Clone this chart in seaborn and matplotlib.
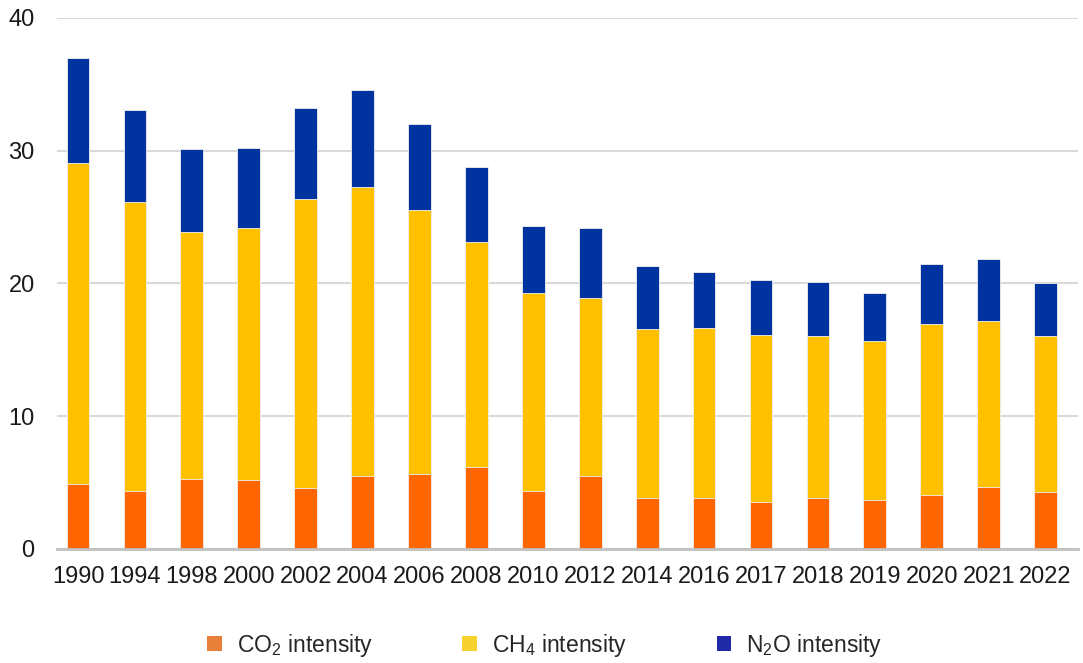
import matplotlib
matplotlib.use("Agg")
import matplotlib.pyplot as plt
import seaborn as sns
import pandas as pd
import numpy as np
from matplotlib.patches import Patch

years = ["1990", "1994", "1998", "2000", "2002", "2004", "2006", "2008", "2010",
         "2012", "2014", "2016", "2017", "2018", "2019", "2020", "2021", "2022"]
co2 = [4.9, 4.4, 5.3, 5.2, 4.6, 5.5, 5.65, 6.2, 4.4,
       5.5, 3.85, 3.86, 3.56, 3.86, 3.66, 4.07, 4.67, 4.27]
ch4 = [24.2, 21.7, 18.6, 19.0, 21.8, 21.8, 19.85, 16.9, 14.9,
       13.4, 12.75, 12.79, 12.59, 12.16, 11.98, 12.9, 12.5, 11.75]
n2o = [7.9, 7.0, 6.2, 6.0, 6.8, 7.3, 6.5, 5.7, 5.0,
       5.3, 4.7, 4.19, 4.09, 4.12, 3.67, 4.48, 4.7, 3.99]
series_labels = ["CO$_2$ intensity", "CH$_4$ intensity", "N$_2$O intensity"]

bar_colors = ["#FF6600", "#FFC000", "#0033A0"]
legend_colors = ["#E8803A", "#F7D22E", "#2029A6"]

df = pd.DataFrame({"year": years, "co2": co2, "ch4": ch4, "n2o": n2o})
df["lvl1"] = df["co2"]
df["lvl2"] = df["co2"] + df["ch4"]
df["lvl3"] = df["co2"] + df["ch4"] + df["n2o"]

sns.set_theme(style="white")
plt.rcParams["font.family"] = ["Liberation Sans", "DejaVu Sans"]
plt.rcParams["mathtext.default"] = "regular"

fig = plt.figure(figsize=(10.83, 6.63), dpi=100)
ax = fig.add_axes([0.0526, 0.172, 0.9428, 0.8009])

for col, color in zip(["lvl3", "lvl2", "lvl1"], bar_colors[::-1]):
    sns.barplot(data=df, x="year", y=col, color=color, width=0.40,
                saturation=1, edgecolor="#f0f0f0", linewidth=0.6, ax=ax, zorder=3)

ax.set_ylim(0, 40)
ax.set_xlim(-0.37, 17.57)
ax.set_yticks([0, 10, 20, 30, 40])
ax.yaxis.grid(True, color="#d9d9d9", linewidth=1.5, zorder=0)
ax.set_axisbelow(True)
for s in ["left", "right", "top"]:
    ax.spines[s].set_visible(False)
ax.spines["bottom"].set_color("#c0c0c0")
ax.spines["bottom"].set_linewidth(2)
ax.spines["bottom"].set_zorder(4)
ax.tick_params(axis="both", length=0, labelsize=17, colors="#1a1a1a")
ax.tick_params(axis="y", pad=16)
ax.tick_params(axis="x", pad=12)
ax.set_xlabel("")
ax.set_ylabel("")

handles = [Patch(facecolor=c, edgecolor="none") for c in legend_colors]
fig.legend(handles, series_labels, loc="center", bbox_to_anchor=(0.503, 0.027),
           ncol=3, frameon=False, handlelength=0.65, handleheight=0.65,
           handletextpad=0.65, columnspacing=3.9,
           prop={"family": ["Liberation Sans", "DejaVu Sans"], "size": 16.5})

fig.savefig("out.png", dpi=100)
